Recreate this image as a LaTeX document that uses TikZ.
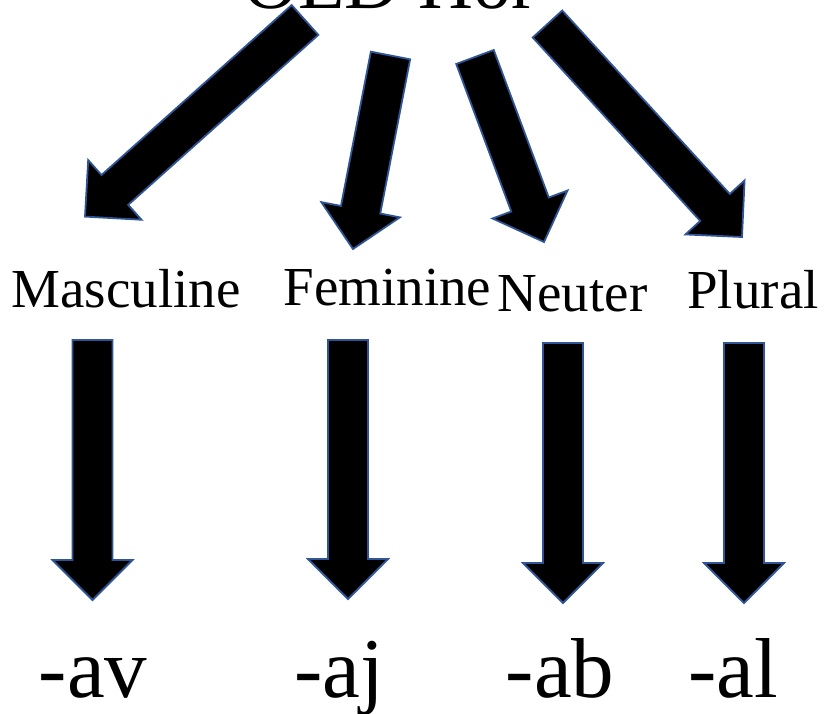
\documentclass[tikz,border=0pt]{standalone}
\usepackage{fontspec}
\setmainfont{Liberation Serif}
\usetikzlibrary{calc}

\definecolor{arrowedge}{RGB}{47,85,151}

\tikzset{
  % filled block arrow drawn from the start point to the tip
  blockarrow/.style={to path={
    let \p1=(\tikztostart), \p2=(\tikztotarget),
        \n1={atan2(\y2-\y1,\x2-\x1)},
        \n2={veclen(\x2-\x1,\y2-\y1)-40pt},
        \n3={\n1+90}, \n4={\n1-90}
    in ($(\p1)+(\n3:20pt)$)
    -- ($(\p1)+(\n1:\n2)+(\n3:20pt)$)
    -- ($(\p1)+(\n1:\n2)+(\n3:40pt)$)
    -- (\p2)
    -- ($(\p1)+(\n1:\n2)+(\n4:40pt)$)
    -- ($(\p1)+(\n1:\n2)+(\n4:20pt)$)
    -- ($(\p1)+(\n4:20pt)$)
    -- cycle
  }},
  bigarrow/.style={fill=black, draw=arrowedge, line width=1.8pt, line join=miter},
  gender/.style={anchor=base, inner sep=0pt, font=\fontsize{55}{60}\selectfont},
  suffix/.style={anchor=base, inner sep=0pt, font=\fontsize{85}{90}\selectfont},
  heading/.style={anchor=base west, inner sep=0pt, font=\fontsize{76}{80}\selectfont},
}

\begin{document}
\begin{tikzpicture}[x=1pt, y=-1pt]
  \clip (0,0) rectangle (825,713);

  % heading, mostly above the top edge
  \node[heading] (title) at (243,8) {OED Hor};

  % gender labels
  \node[gender] (masc) at (126,307) {Masculine};
  \node[gender] (fem)  at (387.5,305) {Feminine};
  \node[gender] (neut) at (572.5,311) {Neuter};
  \node[gender] (plur) at (753,308) {Plural};

  % suffixes
  \node[suffix] (av) at (93,697)  {-av};
  \node[suffix] (aj) at (339,697) {-aj};
  \node[suffix] (ab) at (560,697) {-ab};
  \node[suffix] (al) at (733,697) {-al};

  % ends of the upper arrows
  \coordinate (mascS) at (305,20);    \coordinate (mascT) at (85,216.6);
  \coordinate (femS)  at (390.5,55.5);\coordinate (femT)  at (353,249);
  \coordinate (neutS) at (475,57);    \coordinate (neutT) at (544,242);
  \coordinate (plurS) at (547.5,24);  \coordinate (plurT) at (742,237);

  % ends of the lower arrows
  \coordinate (avS) at (92.5,340); \coordinate (avT) at (92.5,600);
  \coordinate (ajS) at (348,340);  \coordinate (ajT) at (348,599);
  \coordinate (abS) at (563,343);  \coordinate (abT) at (563,603);
  \coordinate (alS) at (744,343);  \coordinate (alT) at (744,603);

  \foreach \a in {masc,fem,neut,plur,av,aj,ab,al}
    \draw[bigarrow] (\a S) to[blockarrow] (\a T);
\end{tikzpicture}
\end{document}
